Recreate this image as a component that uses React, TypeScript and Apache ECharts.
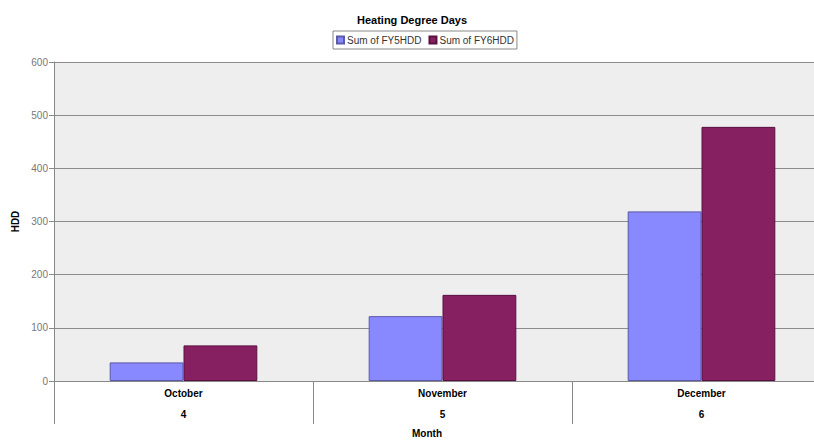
import React, { useEffect, useRef } from "react";
import * as echarts from "echarts";

const months = ["October", "November", "December"];
const monthNumbers = ["4", "5", "6"];
const fy5hdd = [35, 122, 319];
const fy6hdd = [67, 162, 478];
const seriesNames = ["Sum of FY5HDD", "Sum of FY6HDD"];

export default function App() {
  const ref = useRef<HTMLDivElement>(null);
  useEffect(() => {
    if (!ref.current) return;
    const chart = echarts.init(ref.current, undefined, { renderer: "svg" });
    const font = "Liberation Sans, Arial, sans-serif";
    chart.setOption({
      animation: false,
      backgroundColor: "#ffffff",
      textStyle: { fontFamily: font },
      title: {
        text: "Heating Degree Days",
        left: 352,
        top: 9,
        textStyle: { fontSize: 11, fontWeight: "bold", color: "#000", fontFamily: font },
      },
      legend: {
        top: 31,
        left: 333,
        data: seriesNames,
        icon: "rect",
        itemWidth: 7,
        itemHeight: 7,
        itemGap: 7,
        padding: [4, 3, 4, 3],
        borderColor: "#888",
        borderWidth: 1,
        textStyle: { fontSize: 10, color: "#333", fontFamily: font, padding: [0, 0, 0, -2] },
      },
      grid: {
        left: 54,
        right: -17,
        top: 62,
        bottom: 62,
        outerBoundsMode: "none",
        containLabel: false,
        show: true,
        backgroundColor: "#eeeeee",
        borderWidth: 0,
      },
      xAxis: {
        type: "category",
        data: months,
        axisLine: { show: true, lineStyle: { color: "#888", width: 1 } },
        axisTick: { show: true, length: 43, interval: 0, lineStyle: { color: "#888" } },
        axisLabel: {
          interval: 0,
          margin: 2,
          formatter: (v: string, i: number) => `{m|${v}}\n{n|${monthNumbers[i]}}`,
          rich: {
            m: { fontSize: 10, fontWeight: "bold", color: "#000", lineHeight: 20, fontFamily: font },
            n: { fontSize: 10, fontWeight: "bold", color: "#000", lineHeight: 22, fontFamily: font },
          },
        },
      },
      yAxis: {
        type: "value",
        min: 0,
        max: 600,
        interval: 100,
        name: "HDD",
        nameLocation: "middle",
        nameRotate: 90,
        nameGap: 30,
        nameTextStyle: { fontSize: 10, fontWeight: "bold", color: "#000" },
        axisLine: { show: true, lineStyle: { color: "#888", width: 1 } },
        axisTick: { show: true, length: 5, lineStyle: { color: "#888" } },
        axisLabel: { fontSize: 10, color: "#777", margin: 6 },
        splitLine: { show: true, lineStyle: { color: "#8c8c8c", width: 1 } },
      },
      graphic: [
        {
          type: "text",
          left: 412,
          top: 428,
          style: {
            text: "Month",
            fontSize: 10,
            fontWeight: "bold",
            fill: "#000",
            fontFamily: font,
          },
        },
      ],
      series: [
        {
          name: seriesNames[0],
          type: "bar",
          data: fy5hdd,
          barGap: "0%",
          barCategoryGap: "43%",
          itemStyle: { color: "#8888ff", borderColor: "#5a5aa8", borderWidth: 1 },
        },
        {
          name: seriesNames[1],
          type: "bar",
          data: fy6hdd,
          itemStyle: { color: "#862060", borderColor: "#5a1040", borderWidth: 1 },
        },
      ],
    });
    return () => chart.dispose();
  }, []);
  return <div ref={ref} style={{ width: 814, height: 443, position: "absolute", left: 0, top: 0 }} />;
}
